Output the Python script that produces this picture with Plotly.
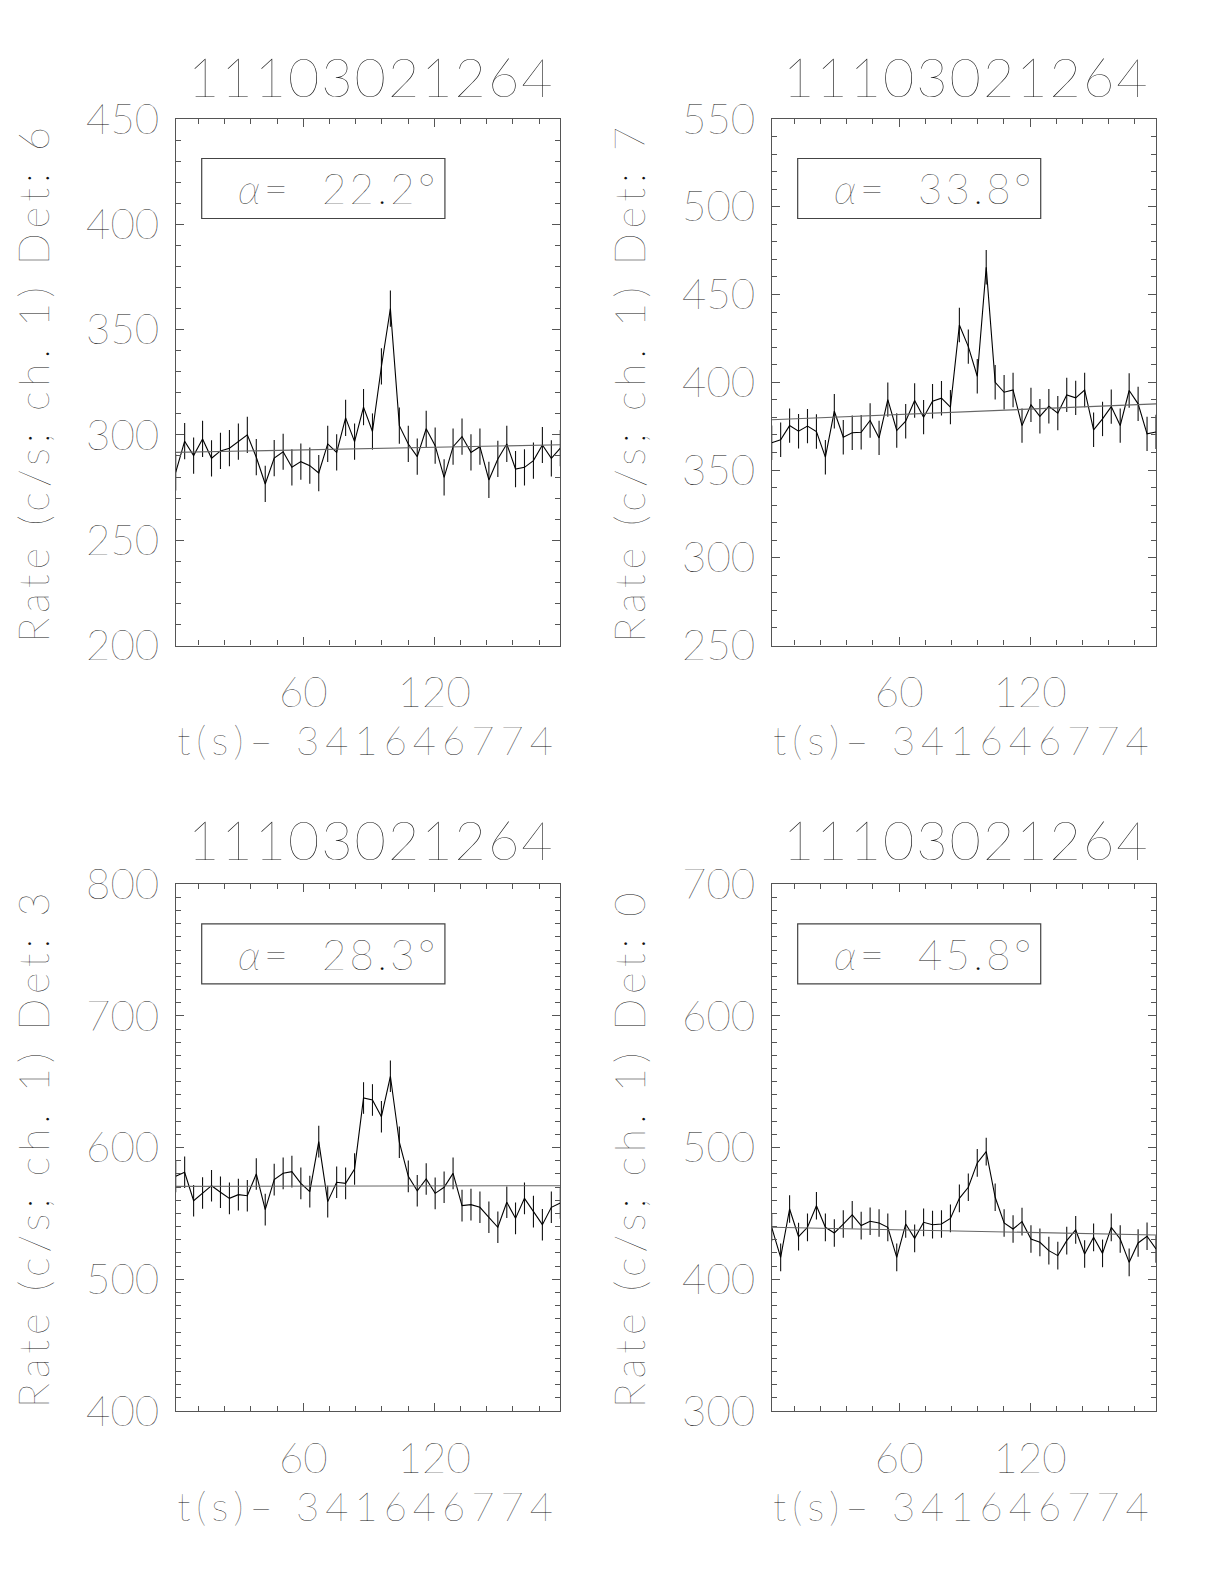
import plotly.graph_objects as go

# ---------------- data ----------------
TIME = [1.6, 5.7, 9.8, 13.9, 18.0, 22.1, 26.2, 30.3, 34.4, 38.5, 42.6, 46.7,
        50.8, 54.8, 58.9, 63.0, 67.1, 71.2, 75.3, 79.4, 83.5, 87.6, 91.7, 95.8,
        99.9, 104.0, 108.1, 112.2, 116.3, 120.4, 124.5, 128.6, 132.7, 136.8,
        140.9, 145.0, 149.1, 153.2, 157.2, 161.3, 165.4, 169.5, 173.6, 177.7]

RATE_DET6 = [282.2, 297.0, 290.2, 298.1, 288.9, 292.4, 293.7, 296.8, 300.0, 289.4,
             276.7, 289.0, 292.0, 284.6, 287.3, 285.4, 281.9, 295.7, 291.7, 308.1,
             296.8, 313.2, 301.6, 332.5, 360.0, 304.4, 295.7, 289.7, 302.9, 294.9,
             279.8, 294.4, 299.2, 291.7, 294.4, 278.6, 288.6, 295.7, 283.8, 284.6,
             287.8, 295.2, 288.9, 293.7]
RATE_DET7 = [365.5, 367.2, 375.3, 372.1, 375.0, 371.9, 357.3, 383.5, 368.7, 371.2,
             371.5, 378.2, 368.3, 390.1, 372.5, 377.8, 389.6, 380.1, 389.2, 390.9,
             385.8, 432.6, 420.3, 403.4, 465.5, 400.0, 394.3, 395.6, 375.3, 387.1,
             380.6, 386.3, 382.4, 392.8, 391.1, 395.6, 372.9, 379.1, 386.1, 375.3,
             395.3, 387.7, 370.6, 371.7]
RATE_DET3 = [578.2, 581.3, 559.7, 565.6, 571.1, 566.1, 561.5, 564.3, 563.5, 580.0,
             552.9, 575.7, 580.5, 581.8, 572.9, 566.6, 604.6, 559.0, 573.7, 572.9,
             583.8, 637.7, 636.2, 623.5, 654.2, 604.1, 578.2, 567.3, 576.2, 565.3,
             569.9, 580.5, 556.0, 556.7, 554.7, 547.1, 539.5, 558.5, 546.3, 561.5,
             551.4, 541.5, 554.7, 558.0]
RATE_DET0 = [439.5, 416.7, 453.4, 432.4, 439.5, 455.9, 439.5, 435.2, 442.0, 448.9,
             440.8, 444.1, 442.8, 439.5, 416.7, 442.0, 431.1, 443.3, 441.5, 442.0,
             446.3, 461.5, 469.9, 488.4, 497.0, 462.3, 442.8, 438.2, 443.8, 430.6,
             428.1, 421.8, 418.0, 429.4, 437.5, 419.2, 431.9, 419.7, 439.5, 430.6,
             412.9, 427.6, 432.7, 423.0]

ERRORS = [8.6, 9.8, 12.0, 10.5]            # approx. 1-sigma error per panel
FIT_ENDS = [[291.7, 295.3], [378.6, 387.7], [570.6, 571.1], [439.5, 433.7]]
ALPHAS = ["22.2", "33.8", "28.3", "45.8"]
DETECTORS = ["6", "7", "3", "0"]
Y_RANGES = [[200, 450], [250, 550], [400, 800], [300, 700]]
Y_DTICK = [50, 50, 100, 100]
X_RANGE = [1.6, 177.7]
X_TICKS = [60, 120]
TITLE = "11103021264"
XTITLE = "t(s)\u2013 341646774"
YTITLE = "Rate (c/s; ch. 1) Det: "

RATES = [RATE_DET6, RATE_DET7, RATE_DET3, RATE_DET0]

# ---------------- layout geometry ----------------
OFF = 8                      # default page body margin
W, H = 1224 - OFF, 1584 - OFF


def px_x(p):
    return (p - OFF) / W


def px_y(p):
    return 1 - (p - OFF) / H


X_DOM = [[px_x(175.7), px_x(560.3)], [px_x(771.7), px_x(1156)]]
Y_DOM = [[px_y(645.5), px_y(119)], [px_y(1411), px_y(884.3)]]
TITLE_Y = [px_y(77), px_y(839)]

FONT = "Lato"
WT = 200
TXT = "#111111"
AX = "#555555"


def fnt(size):
    return dict(family=FONT, size=size, color=TXT, weight=WT)


def spaced(s, sp):
    return '<span style="letter-spacing:%gpx">%s</span>' % (sp, s)


fig = go.Figure()
layout = dict(width=W, height=H, autosize=False, template="none",
              margin=dict(l=0, r=0, t=0, b=0, pad=0),
              paper_bgcolor="white", plot_bgcolor="white",
              showlegend=False, font=fnt(40))
annotations = []
shapes = []

for k in range(4):
    row, col = divmod(k, 2)
    n = "" if k == 0 else str(k + 1)
    xa, ya = "x" + n, "y" + n
    rate = RATES[k]
    fig.add_trace(go.Scatter(
        x=TIME, y=rate, mode="lines", xaxis=xa, yaxis=ya,
        line=dict(color="black", width=1.1),
        error_y=dict(type="constant", value=ERRORS[k], color="#111111",
                     thickness=1.1, width=0)))
    fig.add_trace(go.Scatter(
        x=[TIME[0], TIME[-1]], y=FIT_ENDS[k], mode="lines", xaxis=xa, yaxis=ya,
        line=dict(color="#666666", width=1.1)))

    layout["xaxis" + n] = dict(
        domain=X_DOM[col], range=X_RANGE, anchor=ya, automargin=False,
        showgrid=False, zeroline=False, showline=True, linecolor=AX, linewidth=1.3,
        mirror="allticks", ticks="inside", ticklen=8, tickcolor=AX, tickwidth=1,
        tickvals=X_TICKS, ticktext=[str(v) for v in X_TICKS],
        tickfont=fnt(42), ticklabelstandoff=10,
        minor=dict(dtick=12, tick0=0, ticks="inside", ticklen=5,
                   tickcolor=AX, showgrid=False),
        title=dict(text=spaced(XTITLE, 6), font=fnt(40), standoff=7))
    layout["yaxis" + n] = dict(
        domain=Y_DOM[row], range=Y_RANGES[k], anchor=xa, automargin=False,
        showgrid=False, zeroline=False, showline=True, linecolor=AX, linewidth=1.3,
        mirror="allticks", ticks="inside", ticklen=8, tickcolor=AX, tickwidth=1,
        dtick=Y_DTICK[k], tick0=0,
        tickfont=fnt(42), ticklabelstandoff=7,
        minor=dict(dtick=10, tick0=0, ticks="inside", ticklen=5,
                   tickcolor=AX, showgrid=False),
        title=dict(text=spaced(YTITLE + DETECTORS[k], 5),
                   font=fnt(42), standoff=23))

    # panel title
    xc = (X_DOM[col][0] + X_DOM[col][1]) / 2
    annotations.append(dict(
        text=spaced(TITLE, 2), xref="paper", yref="paper", x=xc + 3 / W,
        y=TITLE_Y[row], xanchor="center", yanchor="middle",
        showarrow=False, font=fnt(54)))

    # alpha box
    shapes.append(dict(type="rect", xref=xa + " domain", yref=ya + " domain",
                       x0=0.0676, x1=0.700, y0=0.811, y1=0.925,
                       line=dict(color="#444444", width=1.2), fillcolor="rgba(0,0,0,0)"))
    annotations.append(dict(
        text=spaced("<i>\u03b1</i>=\u00a0\u00a0" + ALPHAS[k] + "\u00b0", 3.3),
        xref=xa + " domain", yref=ya + " domain", x=0.158, y=0.868,
        xanchor="left", yanchor="middle", showarrow=False, font=fnt(42)))

layout["annotations"] = annotations
layout["shapes"] = shapes
fig.update_layout(**layout)
fig.write_html("out.html")
